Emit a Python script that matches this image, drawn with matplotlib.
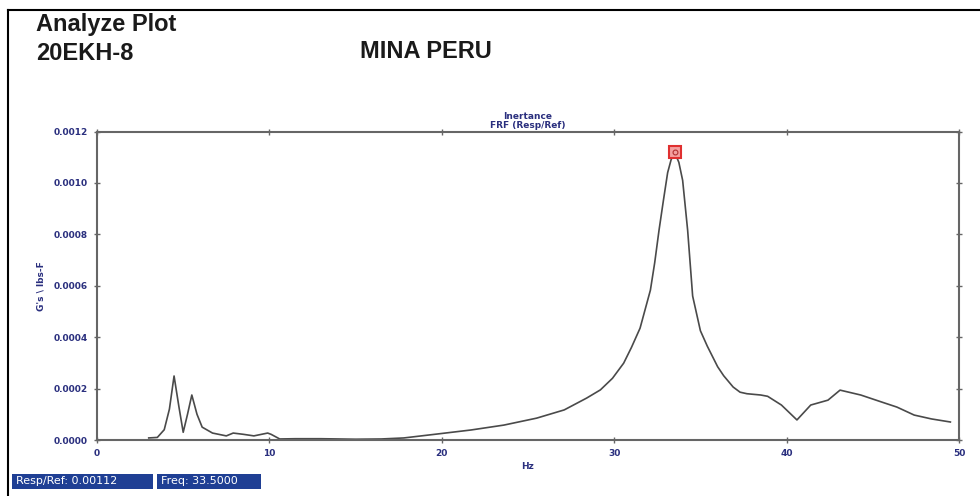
import matplotlib
matplotlib.use("Agg")
import matplotlib.pyplot as plt
from matplotlib.lines import Line2D
from matplotlib.patches import Rectangle

freq = [3.0, 3.5, 3.9, 4.2, 4.47, 4.75, 5.0, 5.25, 5.5, 5.8, 6.1, 6.7, 7.5, 7.9,
        8.5, 9.1, 9.9, 10.1, 10.6, 11.5, 13.0, 15.0, 16.5, 17.8, 19.7, 21.7,
        23.6, 25.5, 27.1, 28.4, 29.2, 29.9, 30.55, 31.0, 31.5, 32.1, 32.35,
        32.6, 32.85, 33.1, 33.3, 33.5, 33.75, 33.97, 34.26, 34.55, 35.0, 35.4,
        36.0, 36.35, 36.9, 37.3, 37.7, 38.5, 38.9, 39.7, 40.6, 41.4, 42.4,
        43.1, 44.3, 45.5, 46.4, 47.4, 48.4, 49.5]
inertance = [0.000008, 0.00001, 0.00004, 0.00012, 0.000249, 0.00013, 0.00003,
             0.0001, 0.000175, 0.0001, 0.00005, 0.000027, 0.000016, 0.000027,
             0.000022, 0.000016, 0.000027, 0.000022, 0.000004, 0.000005,
             0.000005, 0.000003, 0.000004, 0.000008, 0.000023, 0.000039,
             0.000058, 0.000085, 0.000117, 0.000163, 0.000195, 0.00024,
             0.000299, 0.00036, 0.000435, 0.000583, 0.00069, 0.000816, 0.00093,
             0.00104, 0.00109, 0.00112, 0.00108, 0.00101, 0.000816, 0.00056,
             0.000425, 0.000365, 0.000285, 0.00025, 0.000206, 0.000186,
             0.00018, 0.000175, 0.00017, 0.000136, 0.000078, 0.000136,
             0.000155, 0.000194, 0.000175, 0.000148, 0.000128, 0.000097,
             0.000082, 0.00007]
peak_freq = 33.5
peak_val = 0.00112
xticks = [0, 10, 20, 30, 40, 50]
yticks = [0.0, 0.0002, 0.0004, 0.0006, 0.0008, 0.0010, 0.0012]
ytick_labels = ["0.0000", "0.0002", "0.0004", "0.0006", "0.0008", "0.0010", "0.0012"]

navy = "#2a2f7e"
W, H = 980, 496
fig = plt.figure(figsize=(9.8, 4.96), dpi=100)
ax = fig.add_axes([97/W, 1-440/H, (959-97)/W, (440-131.5)/H])
ax.plot(freq, inertance, color="#4a4a4a", lw=1.2)
ax.plot([peak_freq], [peak_val], marker="s", ms=9, mfc="#f4a0a0", mec="#e03030", mew=1.5)
ax.plot([peak_freq], [peak_val], marker="o", ms=3.5, mfc="none", mec="#b03030", mew=0.8)
ax.set_xlim(0, 50)
ax.set_ylim(0, 0.0012)
ax.set_xticks(xticks)
ax.set_xticklabels([str(t) for t in xticks])
ax.set_yticks(yticks)
ax.set_yticklabels(ytick_labels)
for sp in ax.spines.values():
    sp.set_color("#666666")
    sp.set_linewidth(1.5)
ax.tick_params(direction="inout", length=5, width=1, color="#666666",
               labelsize=6.5, labelcolor=navy, top=True, right=True, pad=4)
for lab in ax.get_xticklabels() + ax.get_yticklabels():
    lab.set_fontweight("bold")
ax.set_xlabel("Hz", fontsize=6.5, color=navy, fontweight="bold", labelpad=3)
ax.set_ylabel("G's \\ lbs-F", fontsize=6.5, color=navy, fontweight="bold", labelpad=6)
ax.text(0.5, 1.005, "Inertance\nFRF (Resp/Ref)", transform=ax.transAxes,
        ha="center", va="bottom", fontsize=6.5, color=navy, fontweight="bold",
        linespacing=0.95)

title_font = dict(family="Liberation Sans", fontsize=17, fontweight="bold",
                  color="#1a1a1a", va="center", ha="left")
fig.text(36/W, 1-25/H, "Analyze Plot", **title_font)
fig.text(36/W, 1-53/H, "20EKH-8", **title_font)
fig.text(360/W, 1-51/H, "MINA PERU", **title_font)

box_col = "#1f3f94"
fig.add_artist(Rectangle((12/W, 1-489/H), (153-12)/W, 15/H, transform=fig.transFigure,
                         fc=box_col, ec="none"))
fig.add_artist(Rectangle((157/W, 1-489/H), (261-157)/W, 15/H, transform=fig.transFigure,
                         fc=box_col, ec="none"))
fig.text(16/W, 1-481.5/H, "Resp/Ref: 0.00112", fontsize=8, color="white",
         va="center", ha="left")
fig.text(161/W, 1-481.5/H, "Freq: 33.5000", fontsize=8, color="white",
         va="center", ha="left")

fig.add_artist(Line2D([8/W, 1.0], [1-10/H, 1-10/H], color="black", lw=1.5,
                      transform=fig.transFigure))
fig.add_artist(Line2D([8/W, 8/W], [0, 1-10/H], color="black", lw=1.5,
                      transform=fig.transFigure))

fig.savefig("out.png", dpi=100)
